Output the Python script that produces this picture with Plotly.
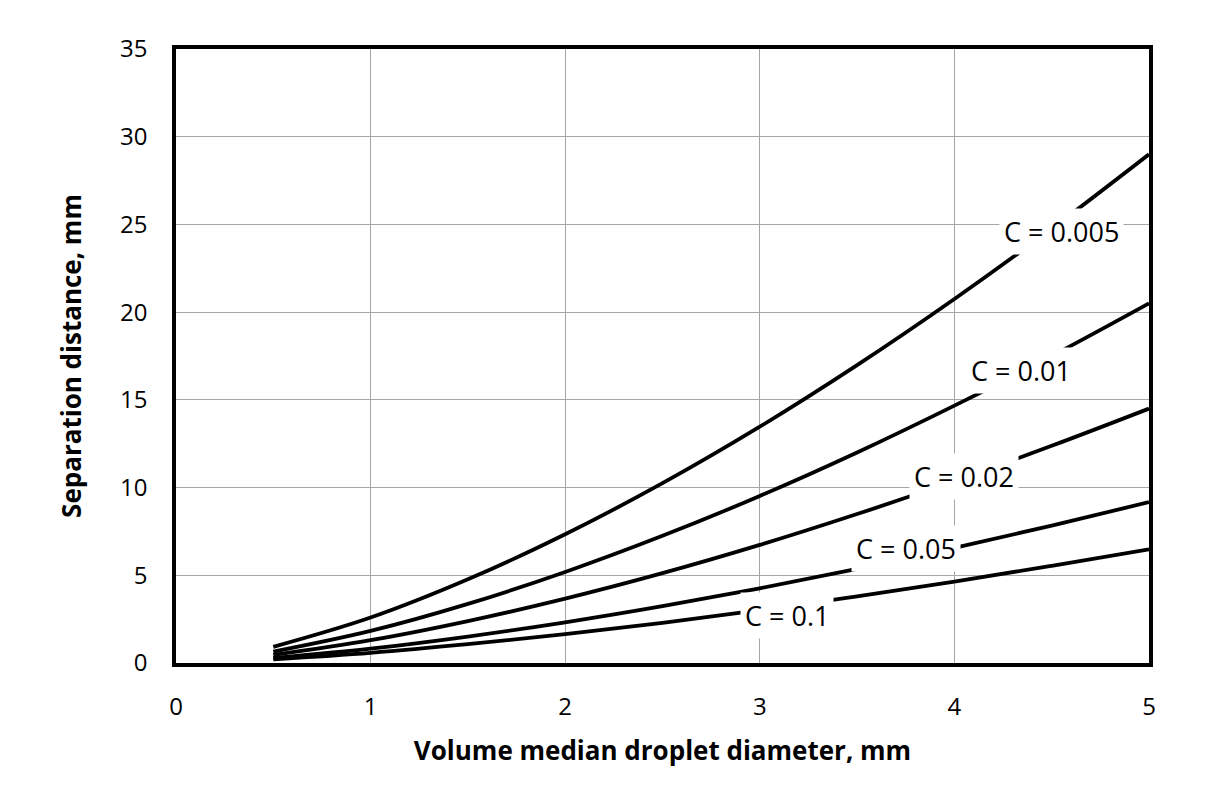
import plotly.graph_objects as go

# Data
diameter_mm = [0.5, 1.0, 1.5, 2.0, 2.5, 3.0, 3.5, 4.0, 4.5, 5.0]
sep_c0005 = [0.92, 2.59, 4.77, 7.34, 10.25, 13.47, 16.98, 20.75, 24.76, 29.0]
sep_c001 = [0.65, 1.83, 3.37, 5.19, 7.25, 9.52, 12.0, 14.67, 17.5, 20.5]
sep_c002 = [0.46, 1.30, 2.39, 3.67, 5.12, 6.73, 8.49, 10.37, 12.38, 14.5]
sep_c005 = [0.29, 0.82, 1.51, 2.32, 3.24, 4.26, 5.37, 6.56, 7.83, 9.17]
sep_c01 = [0.21, 0.58, 1.07, 1.64, 2.29, 3.01, 3.80, 4.64, 5.54, 6.48]

series_names = ["C = 0.005", "C = 0.01", "C = 0.02", "C = 0.05", "C = 0.1"]
series_values = [sep_c0005, sep_c001, sep_c002, sep_c005, sep_c01]
label_x = [4.55, 4.34, 4.05, 3.75, 3.14]
label_y = [24.6, 16.7, 10.65, 6.55, 2.72]

x_ticks = [0, 1, 2, 3, 4, 5]
y_ticks = [0, 5, 10, 15, 20, 25, 30, 35]

FONT = "Open Sans"

fig = go.Figure()
for name, vals in zip(series_names, series_values):
    fig.add_trace(go.Scatter(
        x=diameter_mm, y=vals, mode="lines", name=name,
        line=dict(color="black", width=3.8, shape="spline"),
        showlegend=False,
    ))

for name, lx, ly in zip(series_names, label_x, label_y):
    fig.add_annotation(
        x=lx, y=ly, text=name, showarrow=False,
        font=dict(family=FONT, size=27, color="black"),
        bgcolor="white", borderpad=4,
    )

# page body adds an 8px offset; compensate so the plot box lands at 176..1149 x 49..663
W, H = 1209, 779
L, R, T, B = 168, 68, 41, 124

fig.update_layout(
    width=W, height=H,
    margin=dict(l=L, r=R, t=T, b=B),
    paper_bgcolor="white",
    plot_bgcolor="white",
    font=dict(family=FONT, size=24, color="black"),
)
fig.update_xaxes(
    range=[0, 5], tickvals=x_ticks, ticks="", ticklabelstandoff=19,
    showgrid=True, gridcolor="#a6a6a6", gridwidth=1,
    showline=True, linecolor="black", linewidth=3.5, mirror=True,
    zeroline=False,
    tickfont=dict(family=FONT, size=24),
    title=dict(text="<b>Volume median droplet diameter, mm</b>",
               font=dict(family=FONT, size=26), standoff=22),
)
fig.update_yaxes(
    range=[0, 35], tickvals=y_ticks, ticks="", ticklabelstandoff=20,
    showgrid=True, gridcolor="#a6a6a6", gridwidth=1,
    showline=True, linecolor="black", linewidth=3.5, mirror=True,
    zeroline=False,
    tickfont=dict(family=FONT, size=24),
    title=dict(text="<b>Separation distance, mm</b>",
               font=dict(family=FONT, size=26), standoff=32),
)

fig.write_html("out.html")
